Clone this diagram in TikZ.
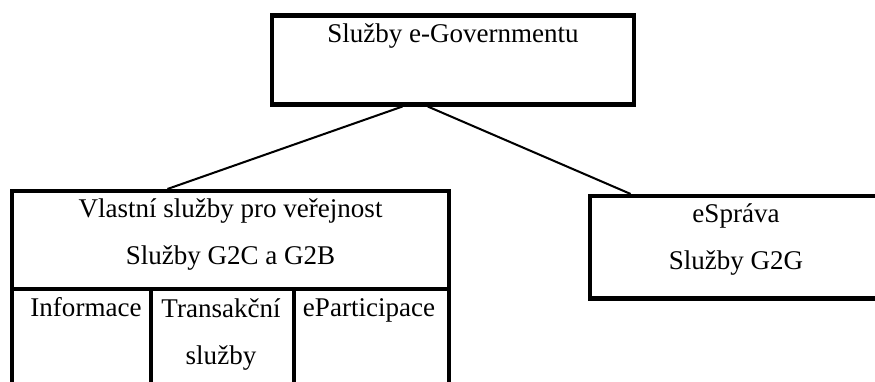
\documentclass[tikz,border=0pt]{standalone}
\usepackage{fontspec}
\setmainfont{Liberation Serif}
\usetikzlibrary{calc}

\begin{document}
\begin{tikzpicture}[x=0.444pt,y=-0.444pt,
  box/.style={draw,line width=1.8pt,inner sep=0pt},
  lbl/.style={inner sep=0pt,anchor=base,align=center,font={\fontsize{12}{20.9}\selectfont}},
  link/.style={line width=0.9pt}
]
\useasboundingbox (0,0) rectangle (875,382);
\clip (0,0) rectangle (875,382);
% boxes
\node[box,minimum width=160.7pt,minimum height=39.5pt] (egov) at (453,60) {};
\node[box,minimum width=194pt,minimum height=43.7pt] (pub) at (230.5,240.25) {};
\node[box,minimum width=61.7pt,minimum height=49.1pt] (info) at (81.5,344.75) {};
\node[box,minimum width=63.5pt,minimum height=49.1pt] (trans) at (222.5,344.75) {};
\node[box,minimum width=68.8pt,minimum height=49.1pt] (epart) at (371.5,344.75) {};
\node[box,minimum width=129.6pt,minimum height=45.5pt] (sprava) at (736,247.25) {};

% texts (base = last line)
\node[lbl] (egov-t) at (453,43) {Služby e-Governmentu};
\node[lbl] (pub-t) at (230.5,265) {Vlastní služby pro veřejnost\\Služby G2C a G2B};
\node[lbl] (info-t) at (86,317) {Informace};
\node[lbl] (trans-t) at (221,365) {Transakční\\služby};
\node[lbl] (epart-t) at (369,317) {eParticipace};
\node[lbl] (sprava-t) at (736,270) {eSpráva\\Služby G2G};

% links
\draw[link] ($(egov.south west)!0.362!(egov.south east)$) -- ($(pub.north west)!0.357!(pub.north east)$);
\draw[link] ($(egov.south west)!0.431!(egov.south east)$) -- ($(sprava.north west)!0.144!(sprava.north east)$);
\end{tikzpicture}
\end{document}
